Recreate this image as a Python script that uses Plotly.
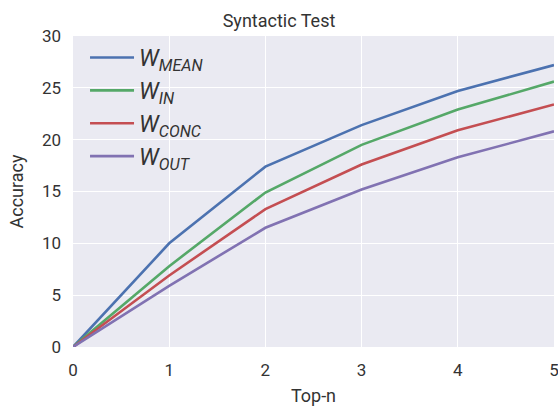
import plotly.graph_objects as go

top_n = [0, 1, 2, 3, 4, 5]
w_mean = [0, 10.0, 17.4, 21.4, 24.7, 27.2]
w_in = [0, 7.8, 14.9, 19.5, 22.9, 25.6]
w_conc = [0, 6.9, 13.3, 17.6, 20.9, 23.4]
w_out = [0, 5.9, 11.5, 15.2, 18.3, 20.8]

series = [
    ("<i>W</i><sub><i>MEAN</i></sub>", w_mean, "#4C72B0"),
    ("<i>W</i><sub><i>IN</i></sub>", w_in, "#55A868"),
    ("<i>W</i><sub><i>CONC</i></sub>", w_conc, "#C44E52"),
    ("<i>W</i><sub><i>OUT</i></sub>", w_out, "#8172B2"),
]

fig = go.Figure()
for name, vals, color in series:
    fig.add_trace(go.Scatter(x=top_n, y=vals, mode="lines", name=name,
                             line=dict(color=color, width=2.6)))

font_family = "Roboto, Lato, sans-serif"
fig.update_layout(
    width=558, height=407,
    margin=dict(l=73, r=4, t=36, b=60, autoexpand=False),
    paper_bgcolor="white",
    plot_bgcolor="#EAEAF2",
    font=dict(family=font_family, size=17, color="#333333"),
    title=dict(text="Syntactic Test", x=0.5, xanchor="center", y=0.949, yanchor="middle",
               font=dict(size=18, color="#333333")),
    showlegend=True,
    legend=dict(x=0.025, y=1.0, xanchor="left", yanchor="top",
                bgcolor="rgba(0,0,0,0)", font=dict(size=23, color="#333333"),
                tracegroupgap=0, itemwidth=44),
    xaxis=dict(range=[0, 5], tickvals=[0, 1, 2, 3, 4, 5], showgrid=True, gridcolor="white",
               gridwidth=1.3, zeroline=False, showline=False, ticks="",
               automargin=False, ticklabeloverflow="allow", ticklabelstandoff=11,
               title=dict(text="Top-n", font=dict(size=18), standoff=10),
               tickfont=dict(size=17)),
    yaxis=dict(range=[0, 30], tickvals=[0, 5, 10, 15, 20, 25, 30], showgrid=True,
               gridcolor="white", gridwidth=1.3, zeroline=False, showline=False, ticks="",
               automargin=False, ticklabelstandoff=11,
               title=dict(text="Accuracy", font=dict(size=18), standoff=13),
               tickfont=dict(size=17)),
)

fig.write_html("out.html", config={"displayModeBar": False},
               post_script="document.body.style.margin='0';document.body.style.overflow='hidden';")
